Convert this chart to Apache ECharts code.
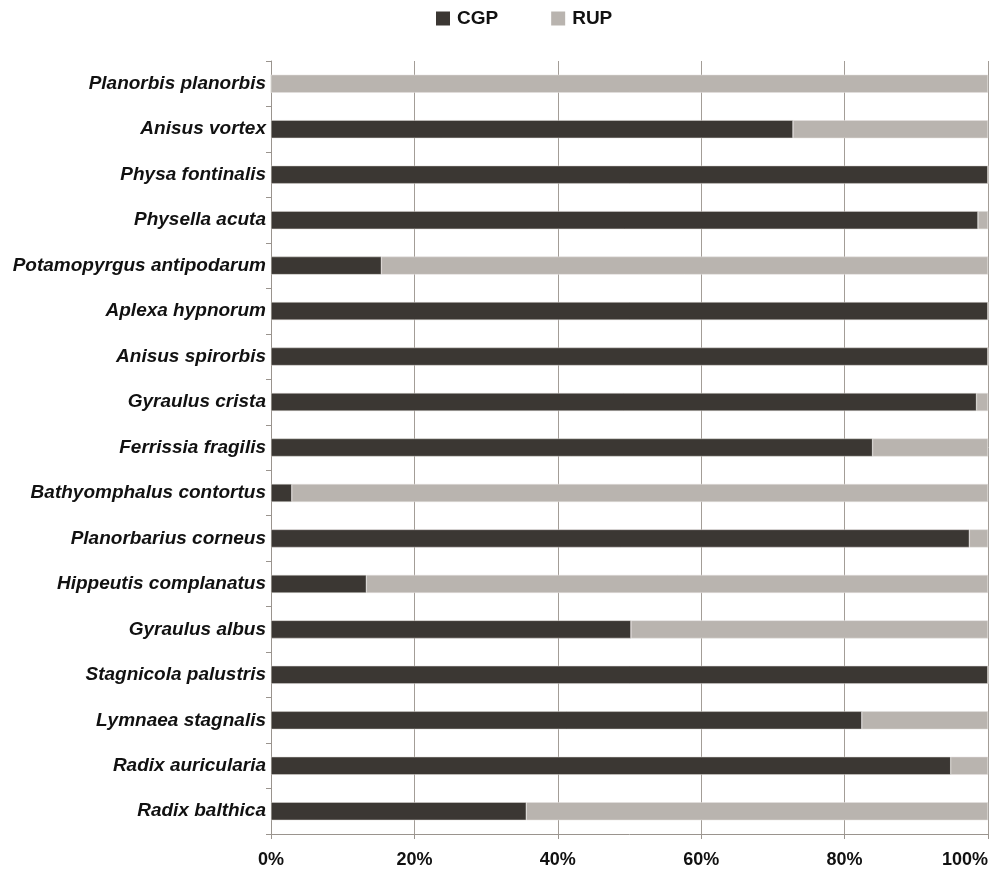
<!DOCTYPE html>
<html>
<head>
<meta charset="utf-8">
<script src="https://cdn.jsdelivr.net/npm/echarts@6/dist/echarts.min.js"></script>
<style>html,body{margin:0;padding:0;background:#fff;}#c{width:1003px;height:870px;}</style>
</head>
<body>
<div id="c"></div>
<script>
const categories = [
  "Planorbis planorbis","Anisus vortex","Physa fontinalis","Physella acuta",
  "Potamopyrgus antipodarum","Aplexa hypnorum","Anisus spirorbis","Gyraulus crista",
  "Ferrissia fragilis","Bathyomphalus contortus","Planorbarius corneus","Hippeutis complanatus",
  "Gyraulus albus","Stagnicola palustris","Lymnaea stagnalis","Radix auricularia","Radix balthica"
];
const cgp = [0, 72.8, 100, 98.6, 15.4, 100, 100, 98.4, 83.9, 2.9, 97.4, 13.3, 50.2, 100, 82.4, 94.8, 35.6];
const rup = [100, 27.2, 0, 1.4, 84.6, 0, 0, 1.6, 16.1, 97.1, 2.6, 86.7, 49.8, 0, 17.6, 5.2, 64.4];
const xTicks = [0, 20, 40, 60, 80, 100];

const chart = echarts.init(document.getElementById('c'));
const font = 'Liberation Sans, Arial, sans-serif';
chart.setOption({
  animation: false,
  backgroundColor: '#fff',
  legend: {
    top: 4, left: 431,
    itemWidth: 14, itemHeight: 14, itemGap: 53,
    icon: 'rect',
    itemStyle: { borderWidth: 0 },
    textStyle: { fontFamily: font, fontWeight: 'bold', fontSize: 19, color: '#111', padding: [0, 0, 0, 2] },
    data: ['CGP', 'RUP']
  },
  grid: { left: 271, right: 15, top: 61, bottom: 36, containLabel: false, outerBoundsMode: 'none' },
  xAxis: {
    type: 'value', min: xTicks[0], max: xTicks[xTicks.length - 1], interval: 20,
    axisLine: { show: true, lineStyle: { color: '#9a948e', width: 1 } },
    axisTick: { show: true, length: 5, lineStyle: { color: '#9a948e' } },
    splitLine: { show: true, lineStyle: { color: '#a39d97', width: 1 } },
    axisLabel: { formatter: '{value}%', fontFamily: font, fontWeight: 'bold', fontSize: 18, color: '#111', margin: 17, alignMaxLabel: 'right' }
  },
  yAxis: {
    type: 'category', data: categories, inverse: true,
    axisLine: { show: true, lineStyle: { color: '#9a948e', width: 1 } },
    axisTick: { show: true, length: 5, lineStyle: { color: '#9a948e' } },
    axisLabel: { fontFamily: font, fontWeight: 'bold', fontStyle: 'italic', fontSize: 19, color: '#111', margin: 5 }
  },
  series: [
    { name: 'CGP', type: 'bar', stack: 'a', data: cgp, barWidth: 18,
      itemStyle: { color: '#3b3733', borderColor: '#dcd8d4', borderWidth: 0.5 } },
    { name: 'RUP', type: 'bar', stack: 'a', data: rup, barWidth: 18,
      itemStyle: { color: '#b9b4af', borderColor: '#e4e1de', borderWidth: 0.5 } }
  ]
});
</script>
</body>
</html>
